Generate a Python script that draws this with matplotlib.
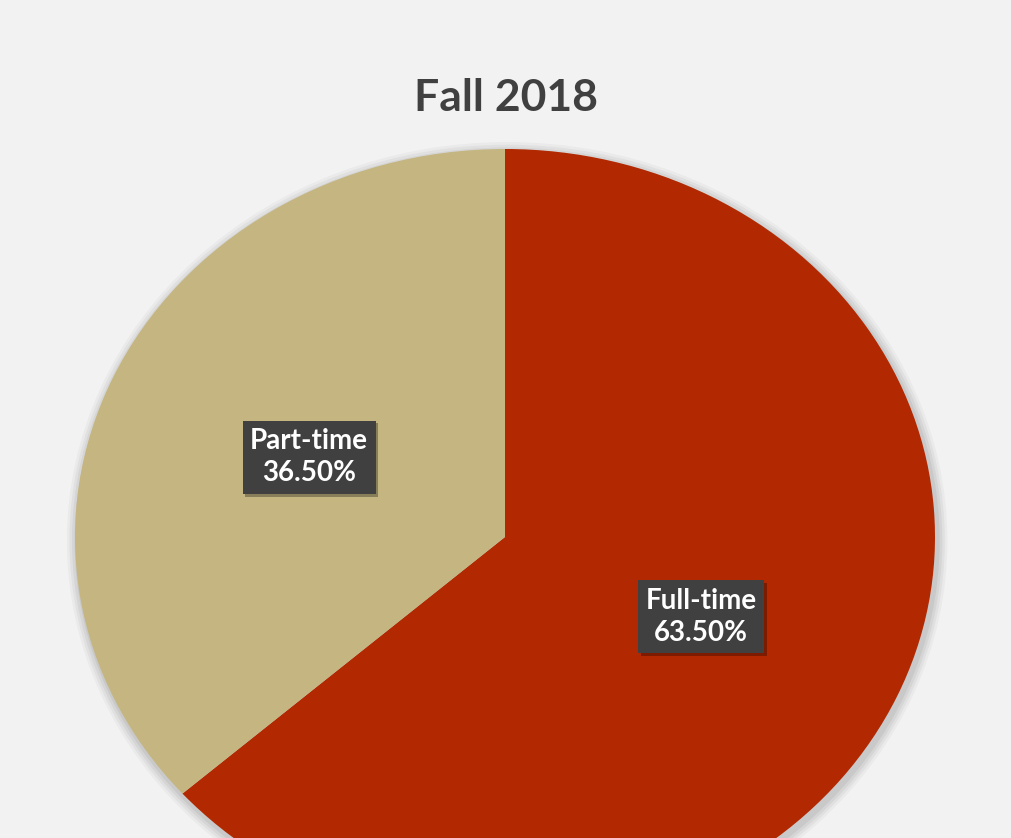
import matplotlib.pyplot as plt
import matplotlib.patheffects as pe
from matplotlib.patches import Ellipse

labels = ["Full-time", "Part-time"]
values = [63.5, 36.5]
colors = ["#b22800", "#c4b581"]

plt.rcParams['font.family'] = ['Lato', 'DejaVu Sans']

fig = plt.figure(figsize=(10.11, 8.38), dpi=100, facecolor="#f2f2f2")
ax = fig.add_axes([0, 0, 1, 1])
ax.set_facecolor("#f2f2f2")

# soft shadow behind the pie
for i, a in enumerate([0.05, 0.05, 0.04, 0.03]):
    ax.add_patch(Ellipse((0.005, -0.01), 2 + 0.012 * (i + 1), 2 + 0.014 * (i + 1),
                         color="#000000", alpha=a, lw=0, zorder=0))

wedges, texts, autotexts = ax.pie(
    values,
    colors=colors,
    startangle=90,
    counterclock=False,
    autopct="%.2f%%",
    pctdistance=0.5,
    wedgeprops=dict(linewidth=0),
)

for name, t in zip(labels, autotexts):
    t.set_text(f"{name}\n{t.get_text()}")
    t.set_color("white")
    t.set_fontsize(20)
    t.set_fontweight("bold")
    t.set_linespacing(1.3)
    t.set_bbox(dict(boxstyle="square,pad=0.27", facecolor="#404040", edgecolor="none"))
    t.get_bbox_patch().set_path_effects([
        pe.SimplePatchShadow(offset=(2, -2), shadow_rgbFace="#000000", alpha=0.3),
        pe.Normal(),
    ])

ax.set_aspect("auto")
ax.set_xlim(-505 / 430, (1011 - 505) / 430)
ax.set_ylim((537 - 838) / 388, 537 / 388)
ax.axis("off")

fig.text(0.5, 1 - 98 / 838, "Fall 2018", ha="center", va="center",
         fontsize=32, fontweight="bold", color="#404040")

fig.savefig("out.png", dpi=100, facecolor=fig.get_facecolor())
